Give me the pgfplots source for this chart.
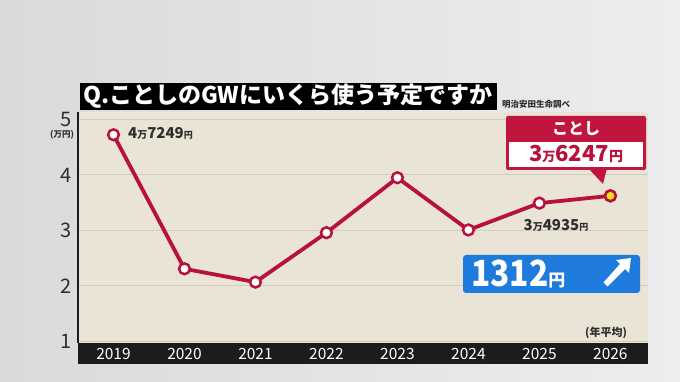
\documentclass[border=0pt]{standalone}
\usepackage{pgfplots}
\pgfplotsset{compat=1.18}
\usepackage{fontspec}
\setmainfont{Noto Sans CJK JP}
\definecolor{bgA}{HTML}{DADADC}
\definecolor{bgB}{HTML}{EDEDEF}
\definecolor{panel}{HTML}{E9E4D6}
\definecolor{gridc}{HTML}{D3CCBA}
\definecolor{crim}{HTML}{B8123C}
\definecolor{boxred}{HTML}{C0163E}
\definecolor{blu}{HTML}{1E7BDB}
\definecolor{barc}{HTML}{1C1C1C}
\definecolor{txt}{HTML}{2E2E2E}
\definecolor{yel}{HTML}{F0E020}
\newcommand{\fs}[1]{\fontsize{#1}{#1}\selectfont}
\begin{document}
\begin{tikzpicture}[x=1pt,y=1pt]
\useasboundingbox (0,0) rectangle (680,382);
\shade[left color=bgA, right color=bgB] (0,0) rectangle (680,382);
% bottom bar
\fill[barc] (78,18) rectangle (648,39);
% title
\fill[black] (80,272) rectangle (497,299);
\node[anchor=west, text=white, font=\fs{23}\bfseries, inner sep=0] at (83,285.5) {Q.ことしのGWにいくら使う予定ですか};
\node[anchor=south west, inner sep=0, font=\fs{8.5}\bfseries, text=txt] at (502,273) {明治安田生命調べ};
\begin{axis}[
  at={(78pt,39pt)}, anchor=south west, scale only axis,
  width=570pt, height=231pt,
  xmin=-0.5, xmax=7.53, ymin=0.973, ymax=5.135,
  axis background/.style={fill=panel},
  axis lines*=left, axis line style={-},
  x axis line style={draw=none},
  y axis line style={draw=barc, line width=1.6pt},
  major tick length=0pt,
  ytick={1,2,3,4,5},
  xtick={0,...,7},
  xticklabels={2019,2020,2021,2022,2023,2024,2025,2026},
  ymajorgrids, grid style={gridc, line width=1pt},
  /pgf/number format/assume math mode=true,
  yticklabel style={font=\fs{20}, text=txt, inner sep=0pt, anchor=east, xshift=-6pt},
  xticklabel style={font=\fs{15.5}, text=white, anchor=center, yshift=-10.5pt},
  clip=false,
]
\addplot[crim, line width=3.8pt, mark=*, mark size=5.4pt,
  mark options={fill=white, draw=crim, line width=2.5pt}]
  coordinates {(0,4.7249)(1,2.31)(2,2.07)(3,2.96)(4,3.95)(5,3.01)(6,3.4935)(7,3.6247)};
\addplot[only marks, mark=*, mark size=5.4pt,
  mark options={fill=yel, draw=crim, line width=2.5pt}]
  coordinates {(7,3.6247)};
\end{axis}
% unit labels
\node[font=\fs{8.5}\bfseries, text=txt, inner sep=0] at (62,247) {(万円)};
\node[font=\fs{11}\bfseries, text=txt, inner sep=0] at (606,49) {(年平均)};
% data labels
\node[anchor=west, inner sep=0, text=txt, font=\bfseries] at (128,249)
  {{\fs{15}4}{\fs{10}万}{\fs{15}7249}{\fs{9}円}};
\node[inner sep=0, text=txt, font=\bfseries] at (556,157)
  {{\fs{15}3}{\fs{10}万}{\fs{15}4935}{\fs{9}円}};
% callout
\fill[boxred, rounded corners=2pt] (506,212) rectangle (646,266);
\fill[boxred] (588,214) -- (607,214) -- (603,198) -- cycle;
\fill[white] (509,215) rectangle (643,240);
\node[inner sep=0, text=white, font=\fs{16}\bfseries] at (576,253) {ことし};
\node[inner sep=0, text=crim, font=\bfseries] at (576,227.5)
  {{\fs{22}3}{\fs{13}万}{\fs{22}6247}{\fs{14}円}};
% blue box
\fill[blu, rounded corners=3pt] (463,89) rectangle (640,127);
\node[anchor=west, inner sep=0, text=white, font=\bfseries] at (471,108)
  {\scalebox{0.88}[1]{\fs{36}1312}{\fs{17}円}};
\fill[white] (603.5,99.5) -- (607.5,95.5) -- (625,113) -- (629,109) -- (631,124) -- (616,122) -- (620,118) -- cycle;
\end{tikzpicture}
\end{document}
